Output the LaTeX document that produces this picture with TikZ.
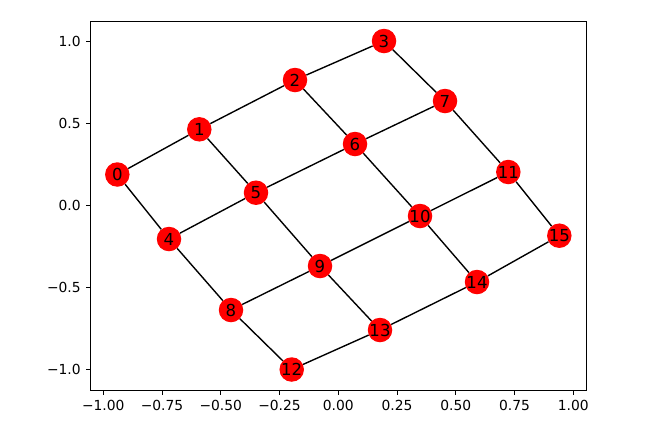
\documentclass[tikz,border=0pt]{standalone}
\usepackage{fontspec}
\setmainfont{DejaVu Sans}
\begin{document}
\begin{tikzpicture}[x=1bp,y=-1bp,
  gnode/.style={circle,fill=red,draw=none,inner sep=0pt,minimum size=24.5bp,font=\fontsize{16.6}{18}\selectfont},
  gedge/.style={black,line width=1.39bp},
  frame/.style={black,line width=1.1bp},
  tick/.style={black,line width=1.1bp},
  ticklab/.style={font=\fontsize{13.9}{15}\selectfont,inner sep=0pt}]
\useasboundingbox (0,0) rectangle (671,432);
% axes frame
\draw[frame] (90.7,21.3) rectangle (586.3,390.3);
% x ticks
\foreach \v/\t in {-1/{−1.00},-0.75/{−0.75},-0.5/{−0.50},-0.25/{−0.25},0/{0.00},0.25/{0.25},0.5/{0.50},0.75/{0.75},1/{1.00}}{
  \draw[tick] ({338.3+235*\v},390.3) -- ({338.3+235*\v},395.2);
  \node[ticklab,anchor=north] (xl\v) at ({338.3+235*\v},400.1) {\t};
}
% y ticks
\foreach \v/\t in {-1/{−1.0},-0.5/{−0.5},0/{0.0},0.5/{0.5},1/{1.0}}{
  \draw[tick] (90.7,{205.5-163.7*\v}) -- (85.8,{205.5-163.7*\v});
  \node[ticklab,anchor=east] (yl\v) at (80.9,{205.5-163.7*\v}) {\t};
}
% nodes
\foreach \i/\x/\y in {0/117.3/174.5,1/199.3/129.3,2/295/80,3/384/41,
  4/169/239,5/256/192.7,6/355/144,7/445/101,
  8/231/310,9/320/266,10/420/216,11/508.3/172,
  12/291.7/369.5,13/380/330,14/477/282,15/559.3/235.7}{
  \node[gnode] (n\i) at (\x,\y) {\i};
}
% edges
\foreach \a/\b in {0/1,1/2,2/3,4/5,5/6,6/7,8/9,9/10,10/11,12/13,13/14,14/15,
  0/4,4/8,8/12,1/5,5/9,9/13,2/6,6/10,10/14,3/7,7/11,11/15}{
  \draw[gedge] (n\a) -- (n\b);
}
\end{tikzpicture}
\end{document}
